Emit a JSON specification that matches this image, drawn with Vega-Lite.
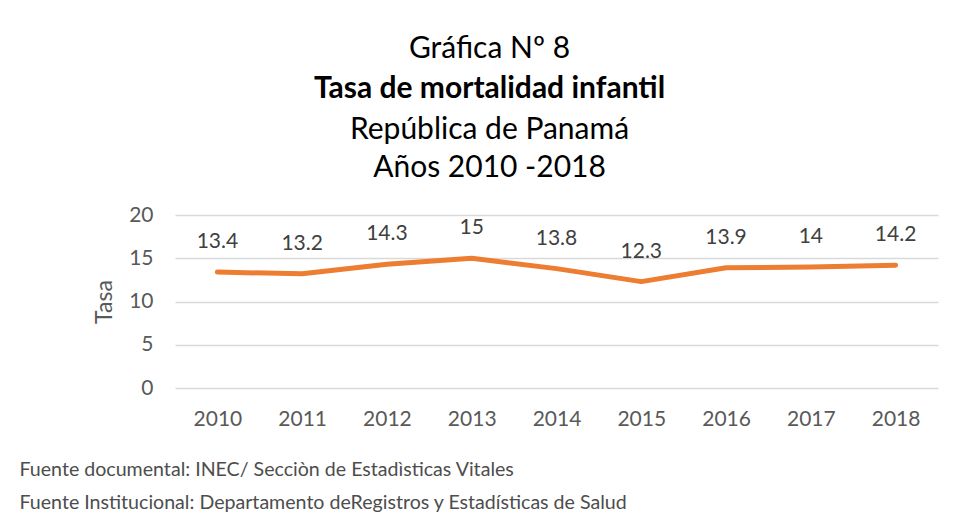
{
  "$schema": "https://vega.github.io/schema/vega-lite/v6.json",
  "width": 763,
  "height": 173,
  "autosize": {"type": "none"},
  "padding": {"left": 175, "top": 215, "right": 18, "bottom": 134},
  "background": "white",
  "title": {
    "text": "Gráfica Nº 8",
    "subtitle": "Tasa de mortalidad infantil",
    "anchor": "middle",
    "frame": "group",
    "dx": -67,
    "offset": 10,
    "font": "Lato",
    "fontSize": 30,
    "fontWeight": "normal",
    "color": "#000000",
    "subtitleFont": "Lato",
    "subtitleFontSize": 30,
    "subtitleFontWeight": "bold",
    "subtitleColor": "#000000",
    "subtitlePadding": 10
  },
  "data": {
    "values": [
      {"year": "2010", "tasa": 13.4},
      {"year": "2011", "tasa": 13.2},
      {"year": "2012", "tasa": 14.3},
      {"year": "2013", "tasa": 15},
      {"year": "2014", "tasa": 13.8},
      {"year": "2015", "tasa": 12.3},
      {"year": "2016", "tasa": 13.9},
      {"year": "2017", "tasa": 14},
      {"year": "2018", "tasa": 14.2}
    ]
  },
  "resolve": {"axis": {"x": "independent"}},
  "layer": [
    {
      "mark": {"type": "line", "color": "#ED7D31", "strokeWidth": 5, "strokeCap": "round", "strokeJoin": "round"},
      "encoding": {
        "x": {
          "field": "year", "type": "ordinal",
          "scale": {"type": "point", "padding": 0.5},
          "axis": {
            "orient": "bottom",
            "labelAngle": 0,
            "labelPadding": 20,
            "ticks": false,
            "tickSize": 0,
            "domain": false,
            "grid": false,
            "labelFont": "Lato",
            "labelFontSize": 21,
            "labelColor": "#595959",
            "title": ["Fuente documental: INEC/ Secciòn de Estadìsticas Vitales", "Fuente Institucional:  Departamento deRegistros y Estadísticas de Salud"],
            "titleAnchor": "start",
            "titleAlign": "left",
            "titleBaseline": "top",
            "titleX": -156,
            "titleY": 72,
            "titleFont": "Lato",
            "titleFontSize": 19.6,
            "titleFontWeight": "normal",
            "titleColor": "#4D4D4D",
            "titleLineHeight": 33
          }
        },
        "y": {
          "field": "tasa", "type": "quantitative",
          "scale": {"domain": [0, 20], "nice": false},
          "axis": {
            "values": [0, 5, 10, 15, 20],
            "grid": true,
            "gridColor": "#D9D9D9",
            "gridWidth": 1.3,
            "domain": false,
            "ticks": false,
            "tickSize": 0,
            "labelPadding": 22,
            "labelFont": "Lato",
            "labelFontSize": 21,
            "labelColor": "#595959",
            "title": "Tasa",
            "titleFont": "Lato",
            "titleFontSize": 23,
            "titleFontWeight": "normal",
            "titleColor": "#595959",
            "titlePadding": 12
          }
        }
      }
    },
    {
      "mark": {"type": "text", "dy": -30, "font": "Lato", "fontSize": 21, "color": "#404040"},
      "encoding": {
        "x": {
          "field": "year", "type": "ordinal",
          "scale": {"type": "point", "padding": 0.5},
          "axis": {
            "orient": "top",
            "labels": false,
            "ticks": false,
            "tickSize": 0,
            "domain": false,
            "grid": false,
            "title": ["República de Panamá", "Años 2010 -2018"],
            "titleFont": "Lato",
            "titleFontSize": 30,
            "titleFontWeight": "normal",
            "titleColor": "#000000",
            "titleLineHeight": 38,
            "titlePadding": 33,
            "titleX": 314,
            "titleAnchor": null
          }
        },
        "y": {"field": "tasa", "type": "quantitative"},
        "text": {"field": "tasa", "type": "quantitative"}
      }
    }
  ],
  "config": {
    "view": {"stroke": null}
  }
}
